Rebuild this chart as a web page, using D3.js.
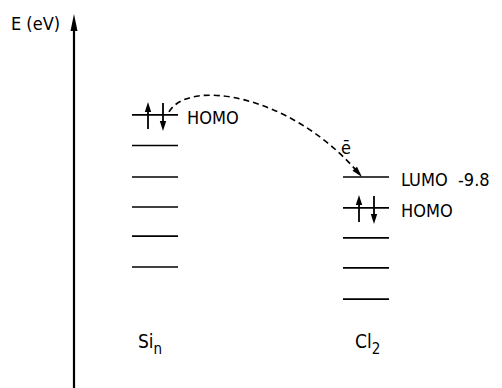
<!DOCTYPE html>
<html>
<head>
<meta charset="utf-8">
<script src="https://cdn.jsdelivr.net/npm/d3@7"></script>
<style>
  html, body { margin: 0; padding: 0; background: #fff; }
  svg { display: block; }
  text { font-family: "DejaVu Sans Condensed", "Liberation Sans Narrow", sans-serif; font-stretch: condensed; fill: #000; }
</style>
</head>
<body>
<svg id="chart" width="502" height="388"></svg>
<script>
// ---- data ----
const species = ["Si", "Cl"];
const speciesNames = ["Si", "Cl"];
const speciesSubs = ["n", "2"];
// orbital energies (eV, relative; LUMO of Cl2 = -9.8)
const siLevels = [-7.73, -8.75, -9.8, -10.8, -11.77, -12.8];
const clLevels = [-9.8, -10.83, -11.83, -12.83, -13.87];
const siLabels = ["HOMO", "", "", "", "", ""];
const clLabels = ["LUMO  -9.8", "HOMO", "", "", ""];
const siOccupied = [0];   // index of doubly occupied level with spin arrows
const clOccupied = [1];
const axisLabel = "E (eV)";
const electronLabel = "\u0113";

// ---- drawing ----
const svg = d3.select("#chart");
const y = d3.scaleLinear().domain([-16, -4]).range([363, 3]);
const x = d3.scalePoint().domain(species).range([155, 366]);
const halfW = 23;

// energy axis with arrow
const axisX = 74;
svg.append("line").attr("x1", axisX).attr("x2", axisX)
  .attr("y1", 388).attr("y2", 26)
  .attr("stroke", "#000").attr("stroke-width", 2.2);
svg.append("path")
  .attr("d", `M${axisX},14 L${axisX - 3.5},31 L${axisX + 3.5},31 Z`)
  .attr("fill", "#000");
svg.append("text").attr("x", 11).attr("y", 30)
  .attr("font-size", 18).text(axisLabel);

const groups = [
  { key: "Si", levels: siLevels, labels: siLabels, occ: siOccupied, off: 9 },
  { key: "Cl", levels: clLevels, labels: clLabels, occ: clOccupied, off: 12 }
];

groups.forEach(g => {
  const cx = x(g.key);
  const gg = svg.append("g");
  gg.selectAll("line.level").data(g.levels).join("line")
    .attr("class", "level")
    .attr("x1", cx - halfW).attr("x2", cx + halfW)
    .attr("y1", d => y(d)).attr("y2", d => y(d))
    .attr("stroke", "#000").attr("stroke-width", 1.6);
  gg.selectAll("text.lbl").data(g.levels.map((v, i) => ({ v, t: g.labels[i] })).filter(d => d.t))
    .join("text").attr("class", "lbl")
    .attr("x", cx + halfW + g.off)
    .attr("y", d => y(d.v) + 9)
    .attr("font-size", 18)
    .attr("xml:space", "preserve")
    .style("white-space", "pre")
    .text(d => d.t);
  // spin arrows
  g.occ.forEach(i => {
    const ly = y(g.levels[i]);
    const ux = cx - 7, dx = cx + 8;
    gg.append("line").attr("x1", ux).attr("x2", ux).attr("y1", ly + 14).attr("y2", ly - 6)
      .attr("stroke", "#000").attr("stroke-width", 1.8);
    gg.append("path").attr("d", `M${ux},${ly - 13} L${ux - 3.2},${ly - 3} L${ux + 3.2},${ly - 3} Z`).attr("fill", "#000");
    gg.append("line").attr("x1", dx).attr("x2", dx).attr("y1", ly - 12).attr("y2", ly + 8)
      .attr("stroke", "#000").attr("stroke-width", 1.8);
    gg.append("path").attr("d", `M${dx},${ly + 16} L${dx - 3.2},${ly + 6} L${dx + 3.2},${ly + 6} Z`).attr("fill", "#000");
  });
});

// species labels
species.forEach((s, i) => {
  const t = svg.append("text")
    .attr("x", x(s) - (i === 0 ? 17 : 11))
    .attr("y", 348).attr("font-size", 19);
  t.append("tspan").text(speciesNames[i]);
  t.append("tspan").attr("font-size", 15).attr("dy", 6).text(speciesSubs[i]);
});

// electron transfer: dashed curve from Si HOMO to Cl LUMO
const p0 = [x("Si") + 14, y(siLevels[0]) - 3];
const p3 = [x("Cl") - 4, y(clLevels[0])];
const p1 = [p0[0] + 20, p0[1] - 34];
const p2 = [p3[0] - 72, p3[1] - 82];
const endTrim = 9;
// tangent at end
const tx = p3[0] - p2[0], ty = p3[1] - p2[1];
const tl = Math.hypot(tx, ty), ux = tx / tl, uy = ty / tl;
const path = d3.path();
path.moveTo(p0[0], p0[1]);
path.bezierCurveTo(p1[0], p1[1], p2[0], p2[1], p3[0] - ux * endTrim, p3[1] - uy * endTrim);
svg.append("path").attr("d", path.toString())
  .attr("fill", "none").attr("stroke", "#000")
  .attr("stroke-width", 1.6).attr("stroke-dasharray", "6,4");
// arrowhead
const hl = 11, hw = 3;
const bx = p3[0] - ux * hl, by = p3[1] - uy * hl;
svg.append("path")
  .attr("d", `M${p3[0]},${p3[1]} L${bx - uy * hw},${by + ux * hw} L${bx + uy * hw},${by - ux * hw} Z`)
  .attr("fill", "#000");
svg.append("text").attr("x", 341).attr("y", 154).attr("font-size", 18).text(electronLabel);
</script>
</body>
</html>
